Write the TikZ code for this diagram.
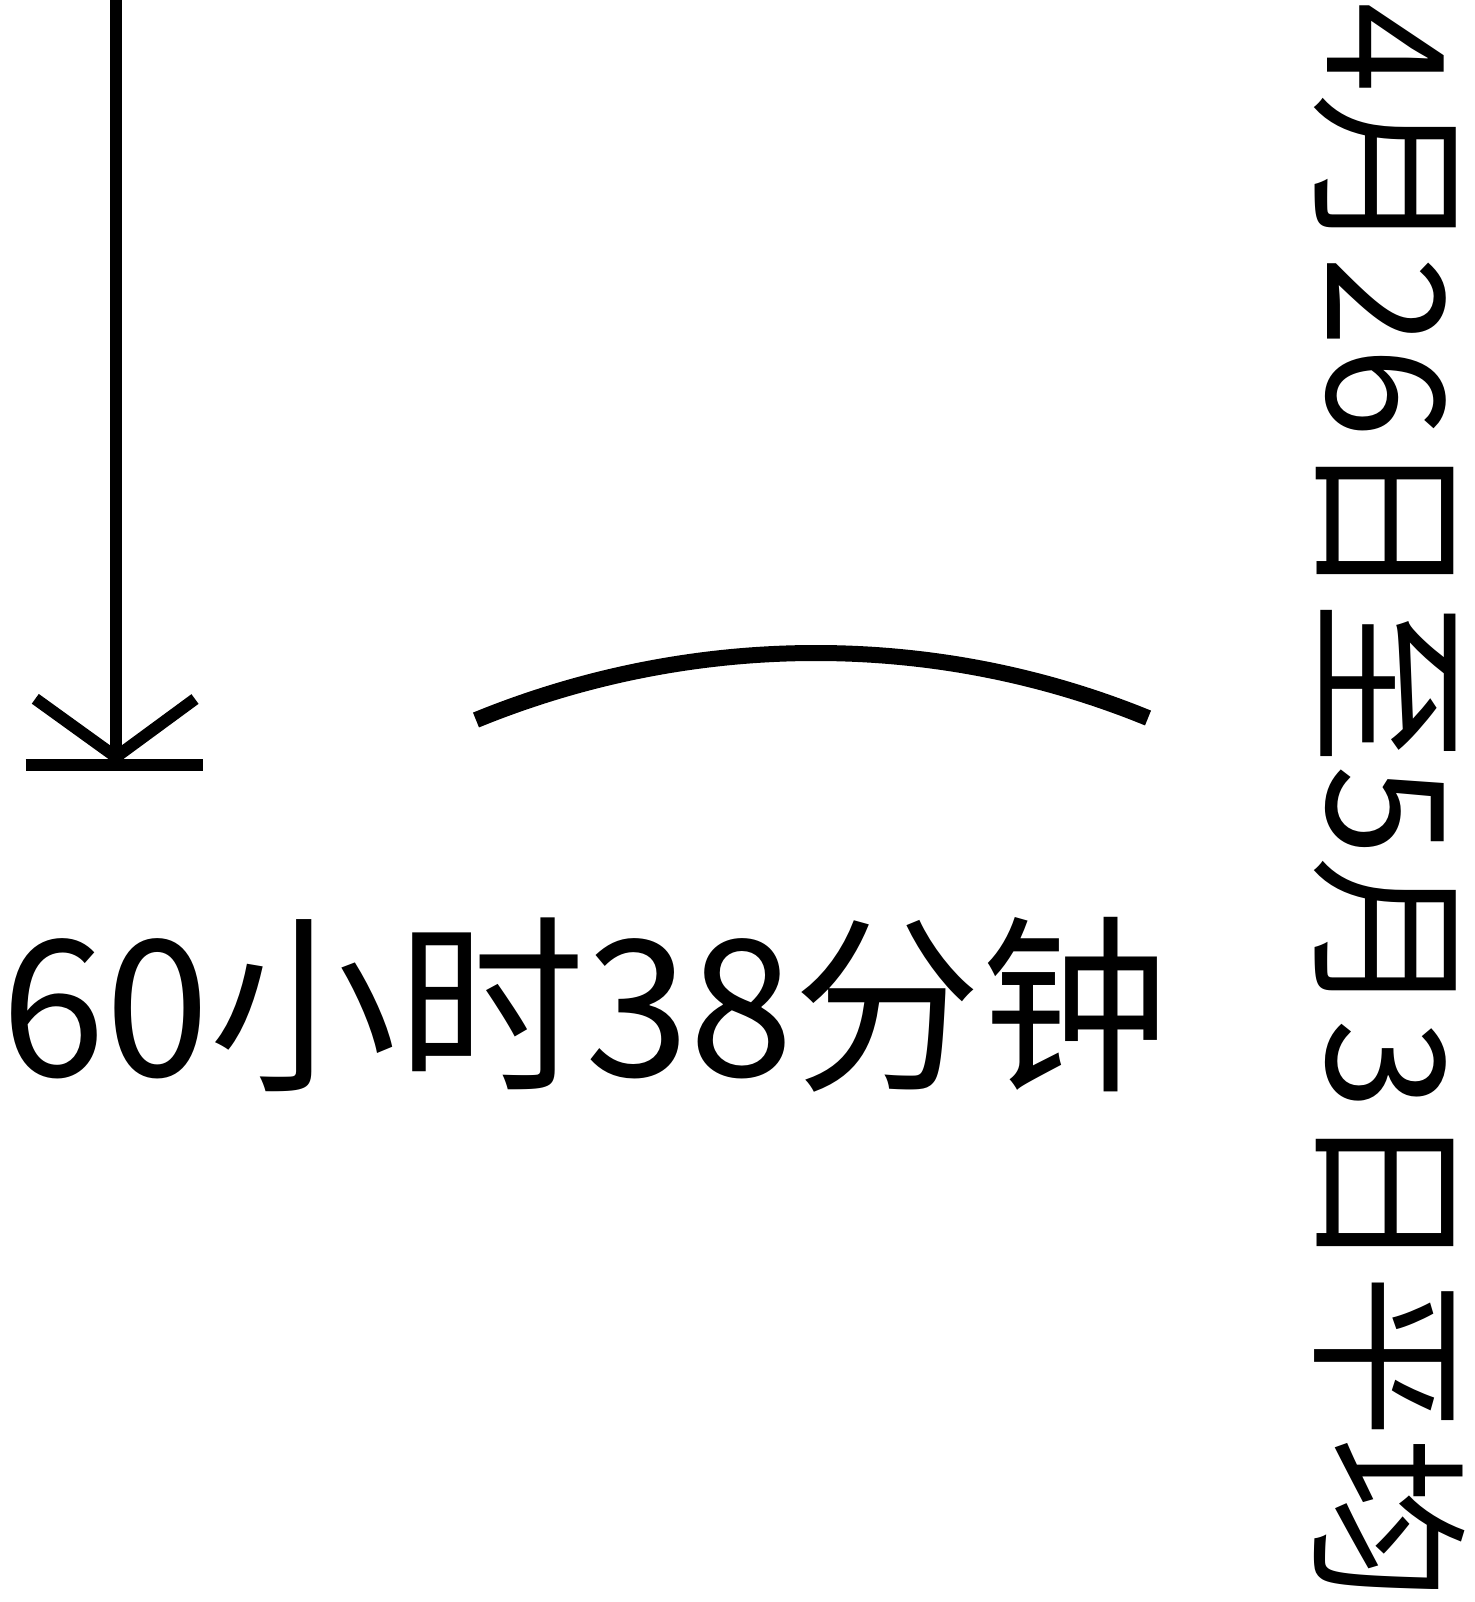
\documentclass[tikz,border=0pt]{standalone}
\usepackage{fontspec}
\newfontfamily\cjk{Noto Sans CJK SC}
\begin{document}
\begin{tikzpicture}[x=0.5pt,y=-0.5pt,
  stroke/.style={line width=6pt,line cap=butt,draw=black},
  thickarc/.style={line width=8pt,line cap=butt,draw=black},
  bigtext/.style={inner sep=0pt,font=\cjk\fontsize{95pt}{95pt}\selectfont},
  sidetext/.style={inner sep=0pt,font=\cjk\fontsize{81.8pt}{81.8pt}\selectfont}]
\useasboundingbox (0,0) rectangle (1474,1602);
% arrow down to a bar
\coordinate (top) at (116,0);
\coordinate (tip) at (116,757);
\coordinate (hl) at (35.3,698.8);
\coordinate (hr) at (195,699);
\coordinate (bl) at (25.7,765);
\coordinate (br) at (202.7,765);
\draw[stroke] (top) -- (tip);
\draw[stroke,line join=miter] (hl) -- (tip) -- (hr);
\draw[stroke] (bl) -- (br);
% arc
\coordinate (al) at (476,720);
\coordinate (ar) at (1148,718);
\draw[thickarc] (al) .. controls (691,632) and (933,630) .. (ar);
% texts
\node[bigtext,anchor=base west,xscale=0.988] (dur) at (1,1076) {60小时38分钟};
\node[sidetext,anchor=base west,rotate=-90] (date) at (1327,2) {4月26日至5月3日平均};
\end{tikzpicture}
\end{document}
